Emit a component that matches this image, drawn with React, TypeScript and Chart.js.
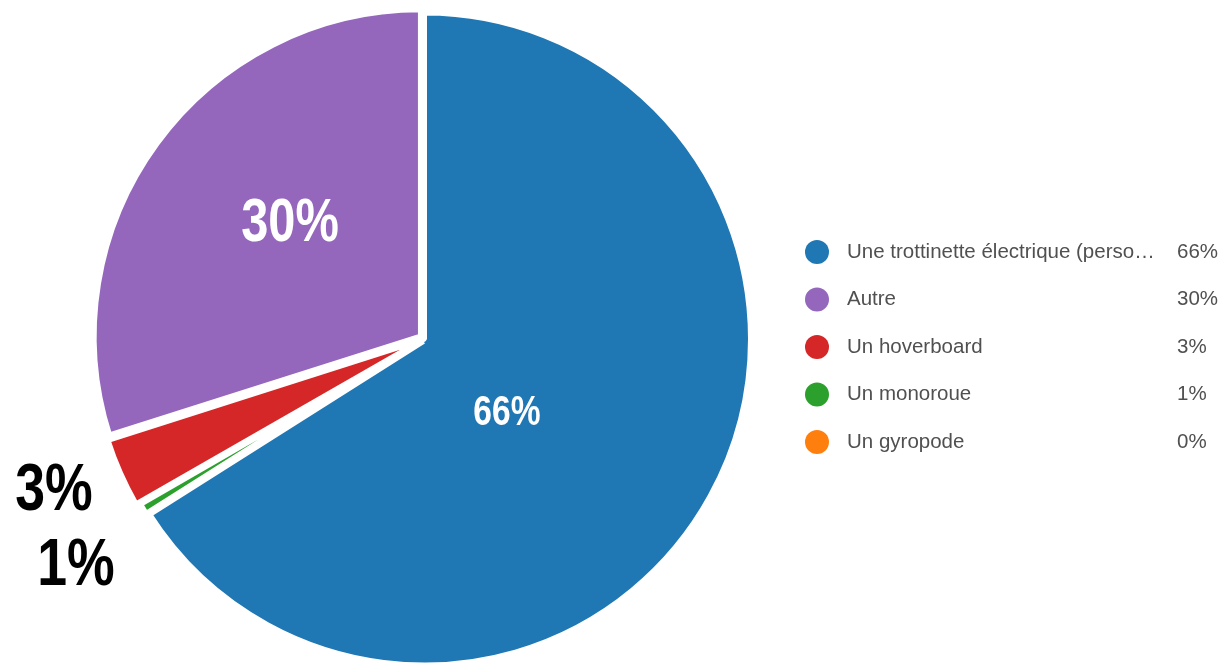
import React, { useEffect, useRef } from "react";
import { Chart, registerables } from "chart.js";

Chart.register(...registerables);

// Categories in the order they are drawn clockwise from 12 o'clock
const categories = [
  "Une trottinette électrique (perso…",
  "Un gyropode",
  "Un monoroue",
  "Un hoverboard",
  "Autre",
];
// Share of answers (%)
const values = [66.0, 0, 0.7, 3.4, 29.9];
// Legend order (indices into categories)
const legendOrder = [0, 4, 3, 2, 1];
// Slice colours
const colors = ["#1f77b4", "#ff7f0e", "#2ca02c", "#d62728", "#9467bd"];

const pct = (v: number) => `${Math.round(v)}%`;

const LABEL_FONT = "'Liberation Sans', 'Arimo', sans-serif";
const LEGEND_FONT = "'Liberation Sans', 'Noto Sans', sans-serif";

const sliceLabels = {
  id: "sliceLabels",
  afterDatasetsDraw(chart: any) {
    const ctx = chart.ctx;
    const meta = chart.getDatasetMeta(0);
    const arc0 = meta.data[0];
    const cx = arc0.x;
    const cy = arc0.y;
    const r = 326;
    // annotation placement per category: [dx, dy(baseline)] in radius units, font size, colour
    const place: Record<number, [number, number, number, string]> = {
      0: [0.253, 0.264, 42, "#ffffff"],
      4: [-0.4126, -0.3, 61, "#ffffff"],
      3: [-1.1365, 0.5245, 67, "#000000"],
      2: [-1.069, 0.7546, 67, "#000000"],
    };
    const sx = 0.8;
    ctx.save();
    ctx.textAlign = "center";
    ctx.textBaseline = "alphabetic";
    Object.keys(place).forEach((k) => {
      const i = Number(k);
      const [dx, dy, size, col] = place[i];
      ctx.save();
      ctx.translate(cx + dx * r, cy + dy * r);
      ctx.scale(sx, 1);
      ctx.font = `bold ${size}px ${LABEL_FONT}`;
      ctx.fillStyle = col;
      ctx.fillText(pct(values[i]), 0, 0);
      ctx.restore();
    });
    ctx.restore();
  },
};

const sideLegend = {
  id: "sideLegend",
  afterDraw(chart: any) {
    const ctx = chart.ctx;
    const x0 = 817;
    const y0 = 252;
    const step = 47.5;
    ctx.save();
    ctx.textBaseline = "middle";
    legendOrder.forEach((idx, row) => {
      const y = y0 + row * step;
      ctx.beginPath();
      ctx.arc(x0, y, 12, 0, Math.PI * 2);
      ctx.fillStyle = colors[idx];
      ctx.fill();
      ctx.font = `20.5px ${LEGEND_FONT}`;
      ctx.fillStyle = "#505050";
      ctx.textAlign = "left";
      ctx.fillText(categories[idx], 847, y);
      ctx.fillText(pct(values[idx]), 1177, y);
    });
    ctx.restore();
  },
};

export default function App() {
  const ref = useRef<HTMLCanvasElement | null>(null);
  useEffect(() => {
    if (!ref.current) return;
    const chart = new Chart(ref.current, {
      type: "pie",
      data: {
        labels: categories,
        datasets: [
          {
            data: values,
            backgroundColor: colors,
            borderColor: "#ffffff",
            borderWidth: [5, 5, 8, 5, 5],
            offset: [0, 0, 8, 14, 20],
            radius: 326,
          } as any,
        ],
      },
      options: {
        animation: false,
        responsive: false,
        rotation: 0,
        layout: { padding: { left: 99, right: 477, top: 15, bottom: 0 } },
        plugins: {
          legend: { display: false },
          tooltip: { enabled: false },
        },
      },
      plugins: [sliceLabels, sideLegend],
    });
    return () => chart.destroy();
  }, []);
  return (
    <div style={{ position: "fixed", left: 0, top: 0, width: 1227, height: 663, background: "#fff" }}>
      <canvas ref={ref} width={1227} height={663} style={{ display: "block" }} />
    </div>
  );
}
